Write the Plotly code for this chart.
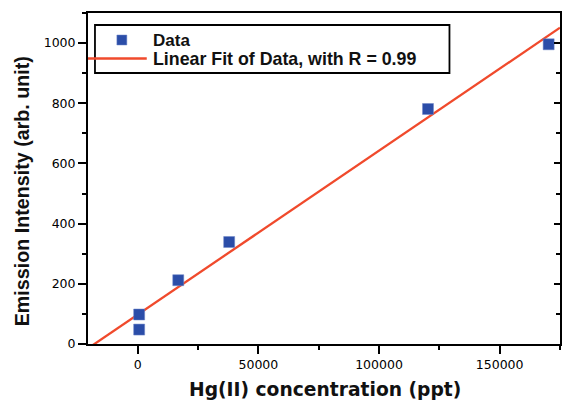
import numpy as np
import plotly.graph_objects as go

# Hg(II) concentration (ppt) and emission intensity (arb. unit)
conc_ppt = [600, 600, 16800, 37900, 120300, 170300]
intensity = [48, 98, 212, 339, 781, 996]
reported_r = 0.99

x_range = [-20600, 175000]
y_range = [0, 1100]

# least-squares straight line through the data
slope, intercept = np.polyfit(conc_ppt, intensity, 1)
fit_x = np.array(x_range, dtype=float)
fit_y = slope * fit_x + intercept

W, H = 563, 400
L, R, T, B = 88, 1, 13, 56
PW, PH = W - L - R, H - T - B

def px(x):
    return (x - L) / PW

def py(y):
    return (H - B - y) / PH

BLUE = "#2B4DA8"
RED = "#F04A2C"
TXT = "Liberation Sans, Arial, sans-serif"
WIDE = "DejaVu Sans, sans-serif"

fig = go.Figure()
fig.add_trace(go.Scatter(
    x=fit_x, y=fit_y, mode="lines",
    line=dict(color=RED, width=2.3), showlegend=False, hoverinfo="skip",
))
fig.add_trace(go.Scatter(
    x=conc_ppt, y=intensity, mode="markers",
    marker=dict(symbol="square", size=11, color=BLUE,
                line=dict(width=0.5, color="#6f86c8")),
    showlegend=False,
))
# invisible trace that carries the right-hand axis
fig.add_trace(go.Scatter(x=[None], y=[None], yaxis="y2", showlegend=False))

axis_common = dict(
    showgrid=False, zeroline=False, showline=True, linecolor="black",
    linewidth=2, tickcolor="black", tickwidth=1.5,
    tickfont=dict(family=WIDE, size=12.5, color="#000"),
)

fig.update_layout(
    width=W, height=H,
    margin=dict(l=L, r=R, t=T, b=B, pad=0),
    paper_bgcolor="white", plot_bgcolor="white",
    showlegend=False,
    xaxis=dict(
        range=x_range, tick0=0, dtick=50000, ticks="outside", ticklen=8,
        mirror=True, tickformat="d",
        minor=dict(ticks="outside", ticklen=4, dtick=25000, tick0=0,
                   tickcolor="black", tickwidth=1.5),
        **axis_common,
    ),
    yaxis=dict(
        range=y_range, tick0=0, dtick=200, ticks="outside", ticklen=8,
        mirror=True,
        minor=dict(ticks="outside", ticklen=4, dtick=100, tick0=0,
                   tickcolor="black", tickwidth=1.5),
        **axis_common,
    ),
    yaxis2=dict(
        range=y_range, overlaying="y", side="right", tick0=0, dtick=200,
        ticks="inside", ticklen=6, showticklabels=False, showgrid=False,
        zeroline=False, showline=False, tickcolor="black", tickwidth=1.5,
        minor=dict(ticks="inside", ticklen=4, dtick=100, tick0=0,
                   tickcolor="black", tickwidth=1.5),
    ),
)

# axis titles
fig.add_annotation(
    text="Hg(II) concentration (ppt)", xref="paper", yref="paper",
    x=px(326), y=py(389), xanchor="center", yanchor="middle",
    showarrow=False, font=dict(family=WIDE, size=18.7, color="#111", weight="bold"),
)
fig.add_annotation(
    text="Emission Intensity (arb. unit)", xref="paper", yref="paper",
    x=px(22), y=py(191), xanchor="center", yanchor="middle", textangle=-90,
    showarrow=False, font=dict(family=TXT, size=19.7, color="#111", weight="bold"),
)

# legend box
fig.add_shape(type="rect", xref="paper", yref="paper",
              x0=px(95), x1=px(451), y0=py(25), y1=py(73),
              line=dict(color="black", width=1.8), fillcolor="rgba(0,0,0,0)")
fig.add_shape(type="rect", xref="paper", yref="paper",
              x0=px(117), x1=px(127), y0=py(35), y1=py(45),
              line=dict(color="#6f86c8", width=0.5), fillcolor=BLUE)
fig.add_shape(type="line", xref="paper", yref="paper",
              x0=px(88), x1=px(147), y0=py(58.5), y1=py(58.5),
              line=dict(color=RED, width=2.5))
fig.add_annotation(
    text="Data", xref="paper", yref="paper", x=px(151), y=py(40),
    xanchor="left", yanchor="middle", showarrow=False,
    font=dict(family=TXT, size=17, color="#111", weight="bold"),
)
fig.add_annotation(
    text=f"Linear Fit of Data, with R = {reported_r:.2f}", xref="paper", yref="paper",
    x=px(151), y=py(59), xanchor="left", yanchor="middle", showarrow=False,
    font=dict(family=TXT, size=17.8, color="#111", weight="bold"),
)

fig.write_html("out.html")
